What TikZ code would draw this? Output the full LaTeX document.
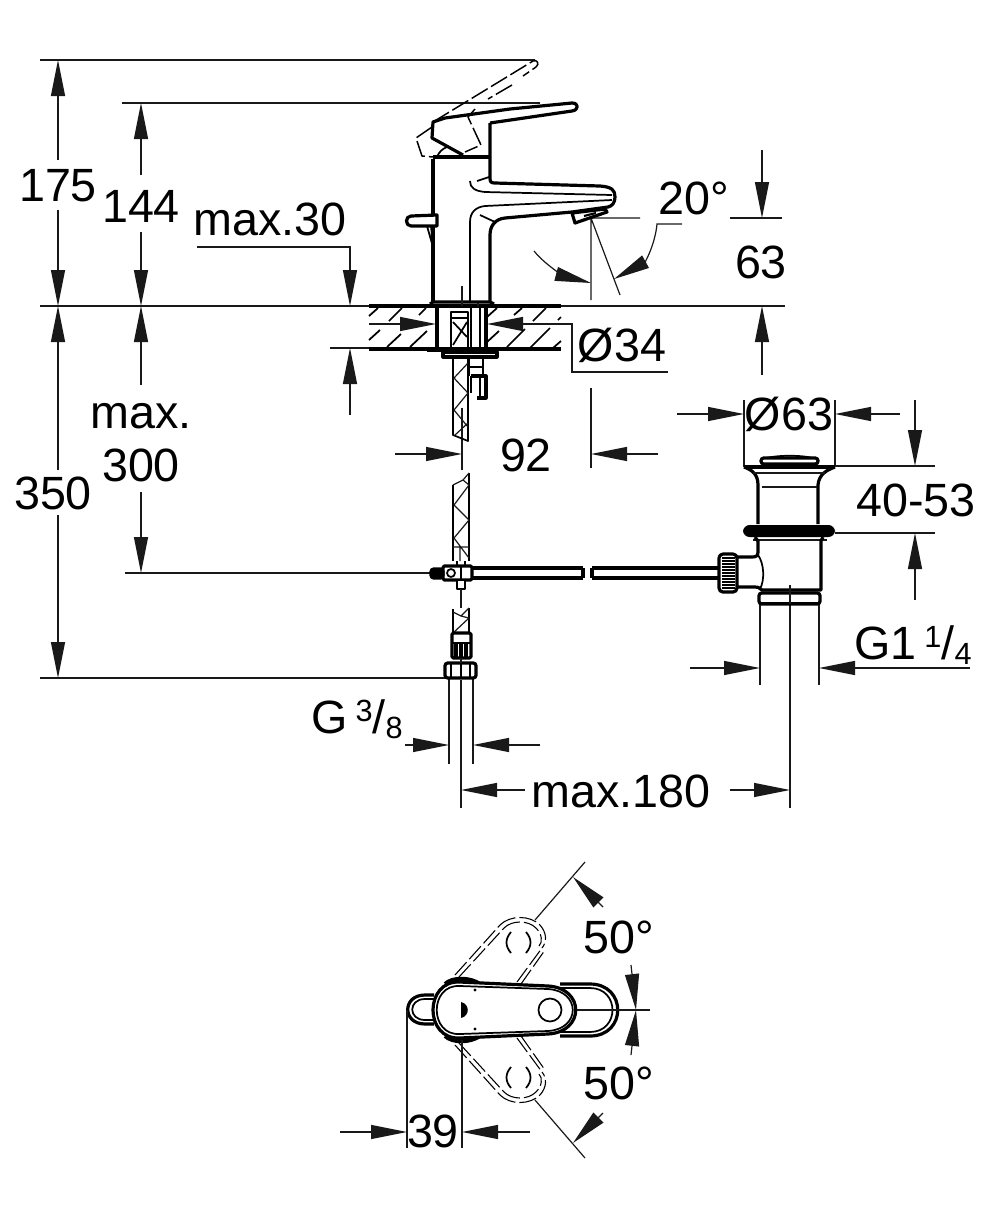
\documentclass[tikz,border=0pt]{standalone}
\usepackage{fontspec}
\setmainfont{Liberation Sans}
\usetikzlibrary{arrows.meta}
\tikzset{
 thinl/.style={line width=0.9pt,black!90},
 thickl/.style={line width=2.4pt,black,line join=round},
 medl/.style={line width=1.3pt,black,line join=round},
 dim/.style={thinl,-{Triangle[length=27pt,width=10.5pt]}},
 dashl/.style={line width=1.1pt,black,dash pattern=on 14pt off 3pt},
 dashs/.style={line width=0.8pt,black,dash pattern=on 13pt off 3pt},
 lab/.style={anchor=base,inner sep=0pt,font=\fontsize{35}{38}\selectfont}
}
\newcommand{\smallup}[1]{\raisebox{9pt}{\fontsize{23}{24}\selectfont #1}}
\newcommand{\smalldn}[1]{\raisebox{-4pt}{\fontsize{23}{24}\selectfont #1}}
\begin{document}
\begin{tikzpicture}[x=0.75pt,y=-0.75pt]
\useasboundingbox (0,0) rectangle (1006,1208);
% extension lines
\draw[thinl] (40,60)--(535,60);
\draw[thinl] (122,103)--(540,103);
\draw[thinl] (40,306)--(370,306) (560,306)--(785,306);
\draw[thinl] (330,348)--(370,348);
\draw[thinl] (125,573)--(431,573);
\draw[thinl] (40,678)--(446,678);
\draw[thinl] (730,218)--(782,218);
\draw[thinl] (835,466)--(935,466) (835,533)--(935,533);
% vertical dimension arrows
\draw[dim] (58,160)--(58,60);
\draw[dim] (58,210)--(58,306);
\draw[dim] (58,470)--(58,306);
\draw[dim] (58,515)--(58,678);
\draw[dim] (141,175)--(141,103);
\draw[dim] (141,232)--(141,306);
\draw[dim] (141,385)--(141,306);
\draw[dim] (141,492)--(141,573);
\draw[dim] (197,247)--(350,247)--(350,306);
\draw[dim] (350,415)--(350,348);
\draw[dim] (762,150)--(762,218);
\draw[dim] (762,375)--(762,306);
\draw[dim] (915,400)--(915,466);
\draw[dim] (915,600)--(915,533);
% horizontal dimension arrows
\draw[dim] (369,324)--(436,324);
\draw[dim] (668,372)--(572,372)--(572,324)--(487,324);
\draw[dim] (395,454)--(462,454);
\draw[dim] (658,454)--(591,454);
\draw[thinl] (462,408)--(462,470) (591,388)--(591,468);
\draw[dim] (677,414)--(744,414);
\draw[dim] (900,414)--(835,414);
\draw[thinl] (744,400)--(744,467) (835,400)--(835,467);
\draw[dim] (690,668)--(760,668);
\draw[dim] (970,668)--(819,668);
\draw[thinl] (760,604)--(760,685) (819,604)--(819,685);
\draw[thinl] (790,585)--(790,808);
\draw[thinl] (461,680)--(461,808);
\draw[dim] (525,790)--(461,790);
\draw[dim] (730,790)--(790,790);
\draw[thinl] (449,678)--(449,764) (473,678)--(473,764);
\draw[dim] (405,745)--(449,745);
\draw[dim] (540,745)--(473,745);
% angle 20
\draw[thinl] (591,218)--(640,218) (591,218)--(591,300) (591,218)--(620,295);
\draw[dim] (534,251) .. controls (548,268) and (568,277) .. (591,283);
\draw[dim] (682,224)--(657,224) .. controls (655,245) and (645,262) .. (614,279);
% deck
\draw[thickl] (369,306)--(561,306) (369,349)--(561,349);
\foreach \a/\b/\c/\d in {369/316/378/308,389/321/402/308,419/315/426/308,369/340/380/330,387/347/401/334,410/347/427/331,487/317/497/308,514/315/522/308,533/321/546/308,558/320/561/317,487/342/499/331,507/347/525/329,530/348/550/328,553/348/561/341}
  \draw[medl] (\a,\b)--(\c,\d);
% tap body
\draw[thickl] (433,303)--(433,159);
\draw[line width=3pt] (433,157)--(490,157);
\draw[thickl] (490,123)--(490,178) .. controls (490,182) and (491,183) .. (495,183)--(600,186) .. controls (612,187) and (615,190) .. (615,197) .. controls (615,203) and (612,206) .. (608,207)--(572,212)--(505,218) .. controls (495,219) and (490,226) .. (490,235)--(490,303);
\draw[medl] (470,181) .. controls (470,188) and (475,191) .. (485,192)--(612,195);
\draw[medl] (477,181)--(489,177);
\draw[medl] (470,303)--(470,222) .. controls (470,212) and (476,207) .. (485,206)--(612,200);
\draw[medl] (480,215)--(495,222);
\draw[thickl,fill=white] (572,213)--(605,209)--(607,212)--(575,223)--cycle;
\draw[line width=1.6pt] (584,216)--(596,213);
% lever
\draw[thickl] (490,123)--(572,111) .. controls (579,110) and (579,103) .. (572,103)--(510,109)--(445,118)--(433,122)--(432,138)--(463,155);
\draw[medl] (437,157) .. controls (439,152) and (442,149) .. (447,147);
% dashed lever
\draw[dashl] (433,122)--(533,61) .. controls (537,59) and (540,64) .. (536,67)--(523,76);
\draw[dashl] (512,85)--(488,99);
\draw[dashl] (475,109)--(468,117)--(481,145)--(465,152);
\draw[dashl] (432,127)--(416,138)--(422,156)--(433,157);
% lift rod
\draw[thickl,fill=white] (411,216)--(437,215)--(437,226)--(411,226) .. controls (405,226) and (405,216) .. (411,216)--cycle;
\draw[medl] (427,226)--(433,247) (431,226)--(433,247);
% base
\draw[thickl] (430,304)--(433,302)--(490,302)--(494,304);
\draw[thinl] (462,286)--(462,306) (478,303)--(478,306);
% under the deck
\draw[thickl] (437,306)--(437,349) (486,306)--(486,349);
\draw[medl] (451,318)--(451,349) (468,312)--(468,349) (471,306)--(471,349) (480,306)--(480,349);
\draw[medl] (451,312) rectangle (468,318);
\draw[medl] (453,322)--(467,337) (453,345)--(467,322);
\draw[line width=3pt] (427,350)--(497,350);
\draw[thickl,fill=white] (443,352) rectangle (497,357);
% hose upper
\draw[medl] (453,357)--(453,435)--(468,441)--(468,357);
\draw[thinl] (454,378)--(468,363) (454,378)--(468,393) (454,410)--(468,393) (454,410)--(468,427) (455,435)--(468,423);
% connector right
\draw[medl] (469,357)--(469,376) (483,357)--(483,376) (469,367)--(483,367);
\draw[thickl] (471,376)--(486,376)--(486,398)--(477,398);
\draw[medl] (471,376)--(471,393);
\draw[medl] (480,376)--(480,398);
% hose lower
\draw[medl] (453,561)--(453,485) (469,473)--(469,561);
\draw[thinl] (453,485)--(463,480)--(469,473);
\draw[thinl] (463,480)--(469,485)--(454,505)--(469,520)--(454,538)--(469,558) (453,547)--(469,547) (460,547)--(460,561);
\draw[medl] (457,561)--(457,566) (465,561)--(465,566);
% T piece
\draw[thickl,fill=white,rounded corners=1pt] (443,566) rectangle (472,580);
\draw[thickl,fill=black,rounded corners=2pt] (431,569) rectangle (443,578);
\draw[medl,fill=white] (451,573) circle (4);
\draw[medl] (461,566)--(461,580);
\draw[thickl] (472,568)--(583,568) (472,578)--(583,578) (583,568)--(583,578);
\draw[thickl] (592,568)--(719,568) (592,578)--(719,578) (592,568)--(592,578);
\draw[medl,fill=white] (457,580) rectangle (465,589);
\draw[thinl] (461,589)--(461,608);
% lower hose
\draw[medl] (453,633)--(453,609) (469,633)--(469,608);
\draw[thinl] (453,612)--(461,616)--(469,608) (461,616)--(469,618)--(453,633);
\draw[thickl,fill=white,rounded corners=1pt] (452,633) rectangle (471,658);
\draw[medl] (452,643)--(471,643);
\draw[line width=3pt] (456,643)--(456,658) (461,643)--(461,658) (466,643)--(466,658);
\draw[thickl,fill=white,rounded corners=2pt] (445,663) rectangle (476,678);
\draw[medl] (451,663)--(451,678) (461,663)--(461,678) (470,663)--(470,678);
\draw[thinl] (461,658)--(461,663);
% waste
\draw[thickl,rounded corners=2pt,fill=white] (761,458) rectangle (818,464);
\draw[medl] (766,458) .. controls (780,455) and (800,455) .. (813,458);
\draw[thickl] (744,467)--(835,467);
\draw[thickl] (744,467) .. controls (752,470) and (758,474) .. (758,485)--(758,524);
\draw[thickl] (835,467) .. controls (827,470) and (819,474) .. (818,485)--(818,524);
\draw[thinl] (753,473)--(825,473) (762,487)--(817,487);
\fill[black,rounded corners=5pt] (743,525) rectangle (835,537);
\draw[thinl] (753,540)--(827,540);
\draw[thickl] (755,537)--(758,541)--(758,552) .. controls (758,556) and (756,557) .. (752,557)--(737,557);
\draw[thickl] (823,537)--(821,541)--(821,590)--(762,590) .. controls (760,587) and (757,587) .. (752,587)--(737,587);
\draw[medl] (758,555) .. controls (764,563) and (765,580) .. (760,589);
\draw[thickl,fill=white,rounded corners=3pt] (719,554) rectangle (737,592);
\foreach \y in {558,561,...,589} \draw[line width=0.9pt] (722,\y)--(735,\y);
\draw[thickl,fill=white,rounded corners=2pt] (759,593) rectangle (820,604);
\draw[line width=2pt] (759,603)--(820,603);
\draw[thinl] (790,585)--(790,604);
% top view: dashed positions
\foreach \sy/\cy in {1/0,-1/2020}{
 \begin{scope}[shift={(0,\cy)},yscale=\sy]
  \draw[dashs] (455,975)--(500,925) (459,977)--(504,928);
  \draw[dashs] (517,982)--(542,948) (521,984)--(545,950);
  \draw[dashs] (500,925) .. controls (510,915) and (530,915) .. (540,925) .. controls (547,933) and (547,942) .. (542,948);
  \draw[dashs] (504,928) .. controls (512,920) and (528,920) .. (536,928) .. controls (542,934) and (543,942) .. (539,946);
  \draw[medl] (511,932) .. controls (505,939) and (505,946) .. (511,953);
  \draw[medl] (526,932) .. controls (532,939) and (532,946) .. (526,953);
  \draw[thinl] (535,920)--(585,862);
  \draw[dim] (603,907)--(573,877);
  \draw[dim] (631,965)--(636,1010);
 \end{scope}
}
% behind lever
\draw[thickl] (560,984)--(590,984) .. controls (627,984) and (627,1036) .. (590,1036)--(560,1036);
\draw[medl] (560,988)--(590,988) .. controls (620,988) and (620,1032) .. (590,1032)--(560,1032);
% left knob
\draw[thickl] (434,995)--(425,995) .. controls (402,995) and (402,1024) .. (425,1024)--(434,1024);
\draw[medl] (434,999)--(425,999) .. controls (408,999) and (408,1020) .. (425,1020)--(434,1020);
% main lever
\draw[line width=3pt] (445,984) .. controls (452,977) and (470,977) .. (480,984);
\draw[line width=3pt] (445,1036) .. controls (452,1043) and (470,1043) .. (480,1036);
\draw[thickl,fill=white] (460,982)--(548,986) .. controls (585,988) and (585,1032) .. (548,1034)--(460,1038) .. controls (424,1040) and (424,980) .. (460,982)--cycle;
\draw[medl] (460,986)--(548,989) .. controls (581,991) and (581,1029) .. (548,1031)--(460,1034) .. controls (429,1036) and (429,984) .. (460,986)--cycle;
\draw[medl] (550,1010) circle (11.5);
\fill (461,1002) .. controls (470,1004) and (470,1016) .. (461,1018)--cycle;
\fill (475,990) circle (1.6) (475,1029) circle (1.6);
\draw[thinl] (577,1010)--(650,1010);
% 39
\draw[thinl] (407,1010)--(407,1148) (462,1040)--(462,1148);
\draw[dim] (340,1132)--(407,1132);
\draw[dim] (530,1132)--(462,1132);
% labels
\node[lab] (t175) at (58,201) {175};
\node[lab] (t144) at (141,222) {144};
\node[lab] (tm30) at (270,235) {max.30};
\node[lab] (t20) at (694,214) {20°};
\node[lab] (t63) at (761,278) {63};
\node[lab] (td34) at (622,361) {Ø34};
\node[lab] (t92) at (526,471) {92};
\node[lab] (td63) at (789,430) {Ø63};
\node[lab] (t4053) at (916,516) {40-53};
\node[lab] (tmax) at (141,428) {max.};
\node[lab] (t300) at (141,481) {300};
\node[lab] (t350) at (53,509) {350};
\node[lab] (tg14) at (913,659) {G1\,\smallup{1}/\smalldn{4}};
\node[lab] (tg38) at (357,733) {G\,\smallup{3}/\smalldn{8}};
\node[lab] (tm180) at (621,807) {max.180};
\node[lab] (t50a) at (619,953) {50°};
\node[lab] (t50b) at (619,1099) {50°};
\node[lab] (t39) at (433,1147) {39};
\end{tikzpicture}
\end{document}
